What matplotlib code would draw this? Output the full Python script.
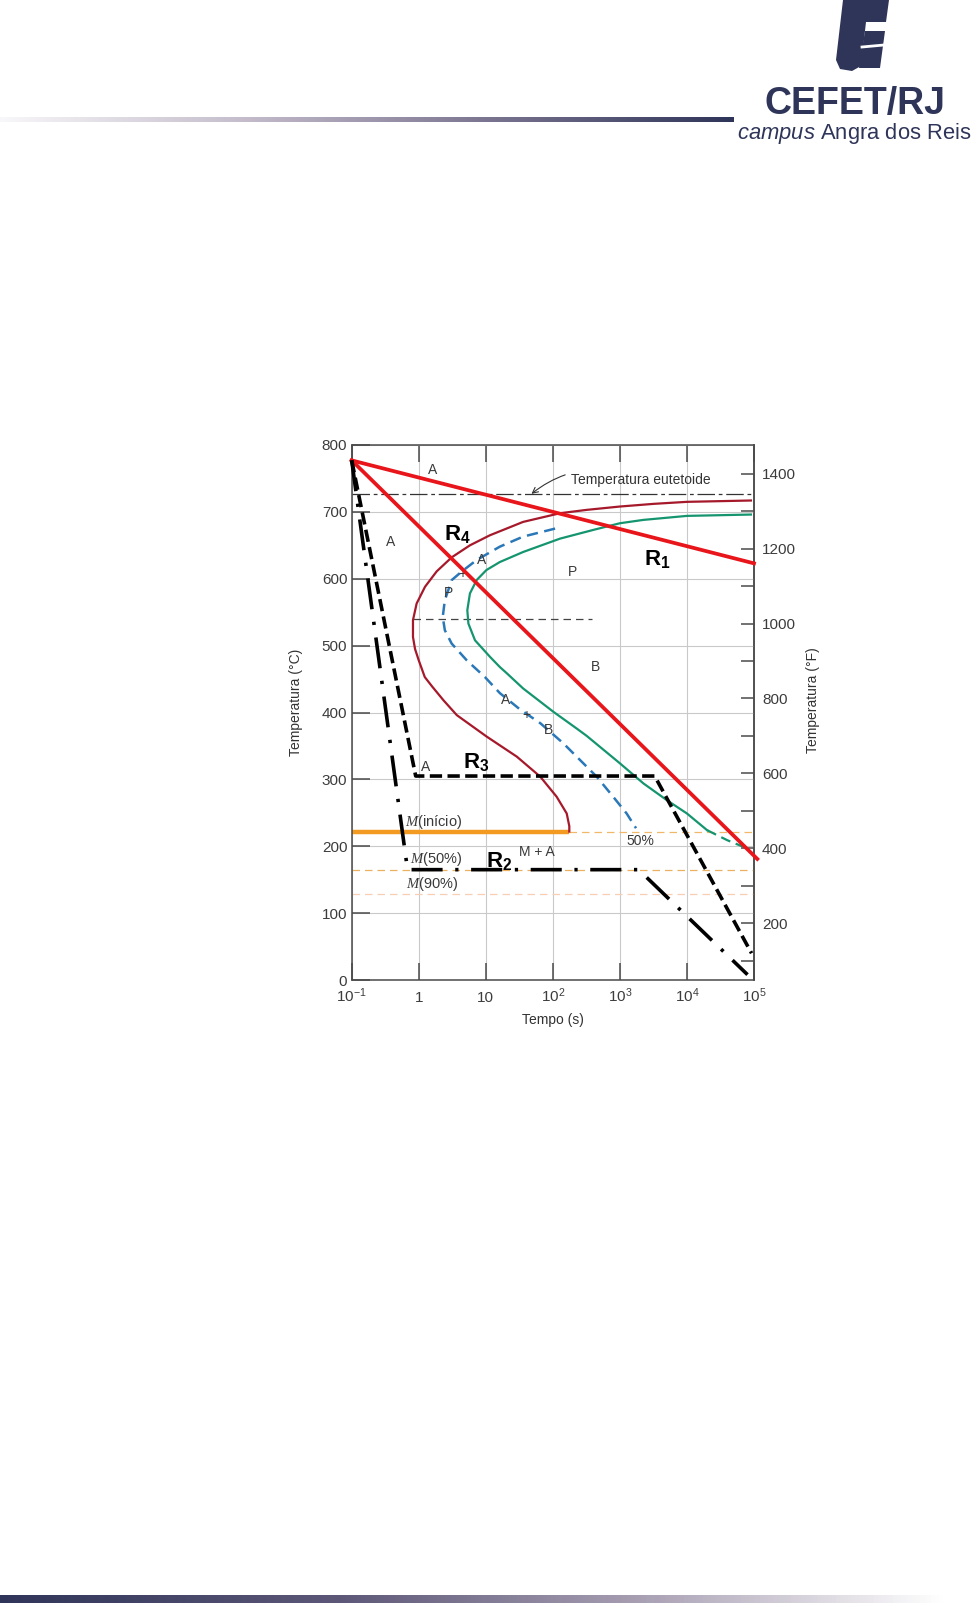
"""
Diagrama TTT (aco eutetoide) com as curvas de resfriamento R1..R4, no layout do slide CEFET/RJ.
"""

# %%
import matplotlib.pyplot as plt
import numpy as np
from matplotlib.colors import LinearSegmentedColormap
from matplotlib.patches import Polygon
from matplotlib.ticker import FixedLocator, NullLocator

plt.rcParams['font.family'] = ['Liberation Sans', 'DejaVu Sans']
plt.rcParams['mathtext.fontset'] = 'custom'
plt.rcParams['mathtext.rm'] = 'Liberation Sans'
plt.rcParams['mathtext.it'] = 'Liberation Sans:italic'
plt.rcParams['mathtext.cal'] = 'Liberation Serif:italic'
plt.rcParams['mathtext.bf'] = 'Liberation Sans:bold'

# %%
# curva de inicio da transformacao (tempo em s, temperatura em C)
start_t = [90000, 10000, 3200, 1000, 320, 128, 36, 11.5, 5.8, 3.1, 1.85, 1.24, 0.93, 0.82,
           0.82, 0.88, 1.0, 1.23, 1.58, 2.35, 3.7, 10.3, 29, 65, 114, 161, 176, 176]
start_T = [717, 715, 712, 708, 703, 698, 685, 665, 650, 632, 611, 588, 563, 538,
           513, 495, 478, 453, 439, 418, 396, 364, 334, 304, 274, 249, 230, 222]

# curva de 50% (tracejada)
half_t = [108, 36, 16.2, 7.3, 4.4, 3.1, 2.45, 2.28, 2.45, 3.1, 5.2, 9.7, 16.2, 32,
          65, 143, 254, 451, 794, 1260, 1740]
half_T = [675, 663, 648, 628, 611, 598, 568, 543, 523, 503, 478, 453, 429, 405,
          384, 354, 329, 304, 274, 249, 227]

# curva de fim da transformacao
end_t = [90000, 10000, 2240, 1000, 400, 128, 36, 16.2, 10.2, 7.3, 5.8, 5.3, 5.5, 6.9,
         11.6, 16.2, 20.4, 36, 102, 227, 320, 1000, 2240, 5000, 10000, 20000]
end_T = [696, 694, 688, 683, 673, 660, 640, 625, 613, 598, 578, 553, 533, 508,
         483, 468, 459, 436, 401, 376, 365, 324, 294, 269, 249, 224]
end_tail_t = [20000, 40000, 70000]
end_tail_T = [224, 209, 199]

# curvas de resfriamento
r1_t, r1_T = [0.1, 100000], [777, 623]
r2_t, r2_T = [0.1, 0.68, 1900, 80000], [777, 165, 165, 8]
r3_t, r3_T = [0.1, 0.9, 3300, 92000], [777, 305, 305, 40]
r4_t, r4_T = [0.1, 112000], [777, 181]

# linhas de referencia
T_eutetoide = 727
T_nariz = 540
t_nariz = [0.81, 380]
T_mi, T_m50, T_m90 = 222, 165, 128
t_mi_fim = 176

# textos dentro do grafico
fase_txt = ['A', 'A', 'A', '+', 'P', 'P', 'B', 'A', '+', 'B', 'A', 'M + A', '50%']
fase_t = [1.62, 0.382, 8.7, 4.52, 2.75, 195, 440, 20, 40.7, 85, 1.28, 57, 2000]
fase_T = [762, 655, 628, 607, 578, 610, 468, 418, 396, 374, 319, 192, 208]

m_txt = [r'$\mathcal{M}$(início)', r'$\mathcal{M}$(50%)', r'$\mathcal{M}$(90%)']
m_t = [0.63, 0.74, 0.64]
m_T = [236, 181, 143]

r_txt = [r'$\mathbf{R_1}$', r'$\mathbf{R_2}$', r'$\mathbf{R_3}$', r'$\mathbf{R_4}$']
r_t = [2290, 9.95, 4.52, 2.38]
r_T = [620, 168, 316, 658]

x_ticks = [0.1, 1, 10, 100, 1000, 10000, 100000]
x_ticklabels = ['$10^{-1}$', '1', '10', '$10^{2}$', '$10^{3}$', '$10^{4}$', '$10^{5}$']
y_ticks = [0, 100, 200, 300, 400, 500, 600, 700, 800]
f_ticks = [200, 400, 600, 800, 1000, 1200, 1400]
f_minor = [100, 300, 500, 700, 900, 1100, 1300]

# %%
W, H = 973, 1603
fig = plt.figure(figsize=(W / 100, H / 100), dpi=100)


def fig_box(x0, y0, x1, y1):
    # caixa em pixels (origem no canto superior esquerdo) -> fracao da figura
    return [x0 / W, 1 - y1 / H, (x1 - x0) / W, (y1 - y0) / H]


def fig_pt(x, y):
    return (x / W, 1 - y / H)


# barras em degrade do slide
topo = LinearSegmentedColormap.from_list('topo', ['#f8f7f9', '#c4bccb', '#7a7490', '#2f3559'])
bar = fig.add_axes(fig_box(0, 117, 734, 122.5))
bar.imshow(np.linspace(0, 1, 256)[None, :], aspect='auto', cmap=topo)
bar.axis('off')

rodape = LinearSegmentedColormap.from_list(
    'rodape', [(0, '#2f3559'), (0.35, '#5d5878'), (0.65, '#a69db1'), (0.97, '#ffffff'), (1, '#ffffff')])
bar2 = fig.add_axes(fig_box(0, 1594.5, 973, 1603))
bar2.imshow(np.linspace(0, 1, 256)[None, :], aspect='auto', cmap=rodape)
bar2.axis('off')

# logo
navy = '#2f3559'
logo_t = [(843, 0), (889, 0), (886, 22), (866, 22), (861, 66), (852, 71), (840, 69), (836, 60)]
logo_e = [(865, 31), (885, 31), (880, 68), (859, 68)]
for pts in [logo_t, logo_e]:
    fig.add_artist(Polygon([fig_pt(*p) for p in pts], closed=True, fc=navy, ec='none',
                           transform=fig.transFigure))
fig.add_artist(plt.Line2D([862 / W, 884 / W], [1 - 47 / H, 1 - 45 / H], color='white', lw=2.0,
                          transform=fig.transFigure))
fig.text(855 / W, 1 - 114 / H, 'CEFET/RJ', ha='center', va='baseline', fontsize=27,
         fontweight='bold', color=navy)
fig.text(972 / W, 1 - 139 / H, r'$\mathit{campus}$ Angra dos Reis', ha='right', va='baseline',
         fontsize=15.8, color=navy)

# %%
ax = fig.add_axes(fig_box(351.7, 445, 754, 980))
ax.set_xscale('log')
ax.set_xlim(0.1, 1e5)
ax.set_ylim(0, 800)
ax.set_axisbelow(True)
ax.grid(True, color='#c9c9c9', lw=0.8)

# linhas horizontais de referencia
ax.axhline(T_eutetoide, color='#333333', lw=0.9, ls=(0, (14, 3, 3, 3)))
ax.plot(t_nariz, [T_nariz, T_nariz], color='#444444', lw=0.9, ls=(0, (6, 4)))
ax.plot([0.1, t_mi_fim], [T_mi, T_mi], color='#f39a22', lw=3.2, solid_capstyle='butt')
ax.plot([t_mi_fim, 1e5], [T_mi, T_mi], color='#f0b868', lw=0.9, ls=(0, (6, 4)))
ax.axhline(T_m50, color='#ebb060', lw=0.9, ls=(0, (6, 4)))
ax.axhline(T_m90, color='#f7cfb2', lw=0.9, ls=(0, (6, 4)))

# curvas TTT
ax.plot(start_t, start_T, color='#a5192b', lw=1.6)
ax.plot(half_t, half_T, color='#2a78b8', lw=1.8, dashes=(4.5, 2.6))
ax.plot(end_t, end_T, color='#15956f', lw=1.6)
ax.plot(end_tail_t, end_tail_T, color='#15956f', lw=1.6, dashes=(4.5, 2.6))

# curvas de resfriamento
ax.plot(r1_t, r1_T, color='#e8151b', lw=2.7, clip_on=False, zorder=5)
ax.plot(r4_t, r4_T, color='#e8151b', lw=2.7, clip_on=False, zorder=5)
ax.plot(r3_t, r3_T, color='black', lw=2.6, dashes=(3.4, 1.5), clip_on=False, zorder=5)
ax.plot(r2_t, r2_T, color='black', lw=2.6, dashes=(8.6, 3.5, 0.9, 3.5), clip_on=False, zorder=5)

# textos
for txt, t, T in zip(fase_txt, fase_t, fase_T):
    ax.text(t, T, txt, ha='center', va='center', fontsize=10, color='#3a3a3a')
for txt, t, T in zip(m_txt, m_t, m_T):
    ax.text(t, T, txt, ha='left', va='center', fontsize=10.5, color='#3a3a3a')
for txt, t, T in zip(r_txt, r_t, r_T):
    ax.text(t, T, txt, ha='left', va='baseline', fontsize=16, color='black', zorder=6)

ax.annotate('Temperatura eutetoide', xy=(48, T_eutetoide), xytext=(184, 748),
            ha='left', va='center', fontsize=10, color='#333333',
            arrowprops=dict(arrowstyle='->', color='#333333', lw=0.8,
                            connectionstyle='arc3,rad=0.3', shrinkA=2, shrinkB=0))

# eixos
for s in ax.spines.values():
    s.set_color('#4a4a4a')
    s.set_linewidth(1.1)
ax.set_xticks(x_ticks, x_ticklabels)
ax.xaxis.set_minor_locator(NullLocator())
ax.set_yticks(y_ticks)
ax.tick_params(direction='in', top=True, right=False, width=1.1, color='#4a4a4a',
               labelcolor='#3c3c3c', labelsize=11)
ax.tick_params(axis='x', length=12.2, pad=15.6)
ax.tick_params(axis='y', length=13, pad=3.2)
plt.setp(ax.get_xticklabels(), va='baseline')

ax.set_xlabel('Tempo (s)', fontsize=10, color='#333333')
ax.xaxis.set_label_coords(0.5, -0.062)
ax.set_ylabel('Temperatura (°C)', fontsize=10, color='#333333')
ax.yaxis.set_label_coords(-0.120, 0.518)

# escala em F a direita
ax2 = ax.secondary_yaxis('right', functions=(lambda c: (c + 27) / 0.56, lambda f: 0.56 * f - 27))
ax2.set_yticks(f_ticks)
ax2.yaxis.set_minor_locator(FixedLocator(f_minor))
ax2.tick_params(which='both', direction='in', length=9.4, width=1.1, color='#4a4a4a',
                labelcolor='#3c3c3c', labelsize=11, pad=5.8)
ax2.spines['right'].set_color('#4a4a4a')
ax2.spines['right'].set_linewidth(1.1)
ax.text(1.147, 0.523, 'Temperatura (°F)', transform=ax.transAxes, rotation=90,
        ha='center', va='center', fontsize=10, color='#333333')

fig.savefig('out.png', dpi=100)
